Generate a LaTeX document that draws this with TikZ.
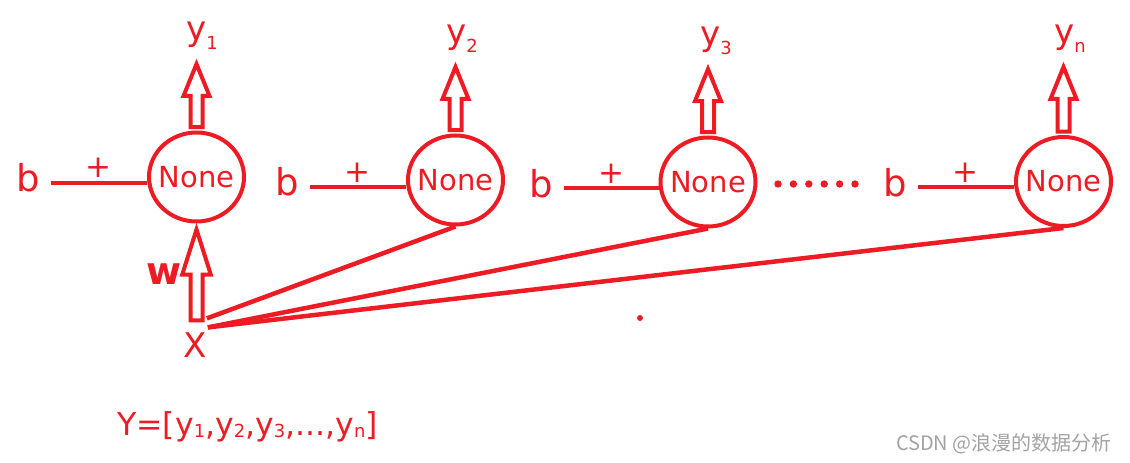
\documentclass[tikz,border=0pt]{standalone}
\usepackage{fontspec}
\setmainfont{DejaVu Sans}
\newfontfamily\cjkfont{Noto Sans CJK SC}
\usetikzlibrary{shapes.geometric, calc}
\definecolor{pnred}{HTML}{ED1C24}
\definecolor{markgray}{HTML}{A3A3A3}

% lowered small index
\newcommand{\idx}[2]{\raisebox{-#1}{\fontsize{18}{18}\selectfont #2}}
% hollow upward arrow: base, tip, head length, head half width
\newcommand{\hollowarrow}[4]{%
  \draw[hollow] ($(#1)+(-6,0)$) -- ($(#2)+(-6,#3)$) -- ($(#2)+(-#4,#3)$) -- (#2)
    -- ($(#2)+(#4,#3)$) -- ($(#2)+(6,#3)$) -- ($(#1)+(6,0)$) -- cycle;}

\begin{document}
\begin{tikzpicture}[
  x=1pt, y=-1pt,
  neuron/.style={
    ellipse, draw=pnred, line width=4pt, minimum width=95pt,
    minimum height=89pt, inner sep=0pt, text=pnred,
    font=\fontsize{29}{31}\selectfont
  },
  ylbl/.style={font=\fontsize{34}{36}\selectfont, text=pnred, inner sep=0pt},
  blbl/.style={font=\fontsize{37}{40}\selectfont, text=pnred, inner sep=0pt},
  plbl/.style={font=\fontsize{31}{34}\selectfont, text=pnred, inner sep=0pt},
  wire/.style={pnred, line width=4pt},
  xwire/.style={pnred, line width=4.5pt},
  hollow/.style={draw=pnred, line width=4pt, fill=white},
]

% Background
\fill[white] (0,0) rectangle (1130,463);
\useasboundingbox (0,0) rectangle (1130,463);

% =============================================
% Neurons and outputs
% =============================================

\node[neuron] (n1) at (196.5,177) {\makebox[0pt]{None}};
\node[neuron] (n2) at (455.5,180) {\makebox[0pt]{None}};
\node[neuron] (n3) at (708,182) {\makebox[0pt]{None}};
\node[neuron] (n4) at (1063.5,181.5) {\makebox[0pt]{None}};

\node[ylbl] (y1) at (202,36) {y\idx{9pt}{1}};
\node[ylbl] (y2) at (462,39) {y\idx{9pt}{2}};
\node[ylbl] (y3) at (716,41) {y\idx{9pt}{3}};
\node[ylbl] (yn) at (1070,39) {y\idx{9pt}{n}};

% Outputs: hollow arrows
\coordinate (base1) at ($(n1.north)+(0,-3.5)$);
\coordinate (tip1) at ($(n1.north |- y1.south)+(0,14)$);
\hollowarrow{base1}{tip1}{32}{13}

\coordinate (base2) at ($(n2.north)+(0,-3.5)$);
\coordinate (tip2) at ($(n2.north |- y2.south)+(0,14)$);
\hollowarrow{base2}{tip2}{32}{13}

\coordinate (base3) at ($(n3.north)+(0,-3.5)$);
\coordinate (tip3) at ($(n3.north |- y3.south)+(0,14)$);
\hollowarrow{base3}{tip3}{32}{13}

\coordinate (base4) at ($(n4.north)+(0,-3.5)$);
\coordinate (tip4) at ($(n4.north |- yn.south)+(0,14)$);
\hollowarrow{base4}{tip4}{32}{13}

% =============================================
% Bias inputs
% =============================================

\node[blbl] (b1) at (28,177.5) {b};
\node[blbl] (b2) at (287,181.5) {b};
\node[blbl] (b3) at (541,184) {b};
\node[blbl] (b4) at (895,182.5) {b};

\draw[wire] ($(b1.east)+(11,5)$) -- ($(b1.east -| n1.west)+(0,5)$)
  node[plbl, midway, yshift=15pt] {+};
\draw[wire] ($(b2.east)+(11,5)$) -- ($(b2.east -| n2.west)+(0,5)$)
  node[plbl, midway, yshift=14pt] {+};
\draw[wire] ($(b3.east)+(11,4)$) -- ($(b3.east -| n3.west)+(0,4)$)
  node[plbl, midway, yshift=14pt] {+};
\draw[wire] ($(b4.east)+(11,4.5)$) -- ($(b4.east -| n4.west)+(0,4.5)$)
  node[plbl, midway, yshift=14pt] {+};

% dots between the third and last neuron
\fill[pnred] (778,184) circle (3.7pt) (793.4,184) circle (3.7pt)
  (808.8,184) circle (3.7pt) (824.2,184) circle (3.7pt)
  (839.6,184) circle (3.7pt) (855,184) circle (3.7pt);

% =============================================
% Input X and weights
% =============================================

\node[font=\fontsize{34}{36}\selectfont, text=pnred, inner sep=0pt] (X) at (195,345) {X};
\node[font=\fontsize{38}{40}\selectfont\bfseries, text=pnred, inner sep=0pt] (w) at (164,274) {w};

\coordinate (wbase) at ($(n1.south |- X.north)+(0,-12)$);
\coordinate (wtip) at ($(n1.south)+(0,6)$);
\hollowarrow{wbase}{wtip}{45}{14.25}

\coordinate (xa) at ($(X.north east)+(0,-14)$);
\coordinate (xb) at ($(X.north east)+(1,-5)$);
\draw[xwire] (xa) -- (n2.south);
\draw[xwire] (xb) -- (n3.south);
\draw[xwire] (xb) -- (n4.south);

\fill[pnred] (640,318) circle (3pt);

% =============================================
% Output vector and mark
% =============================================

\node[anchor=base west, font=\fontsize{31.5}{34}\selectfont, text=pnred, inner sep=0pt]
  (Yvec) at (117,435)
  {Y=[y\idx{2pt}{1},y\idx{2pt}{2},y\idx{2pt}{3},...,y\idx{2pt}{n}]};

\node[anchor=east, font=\cjkfont\fontsize{20}{24}\selectfont, text=markgray,
      inner sep=0pt] (mark) at (1112,444) {CSDN @浪漫的数据分析};

\end{tikzpicture}
\end{document}
